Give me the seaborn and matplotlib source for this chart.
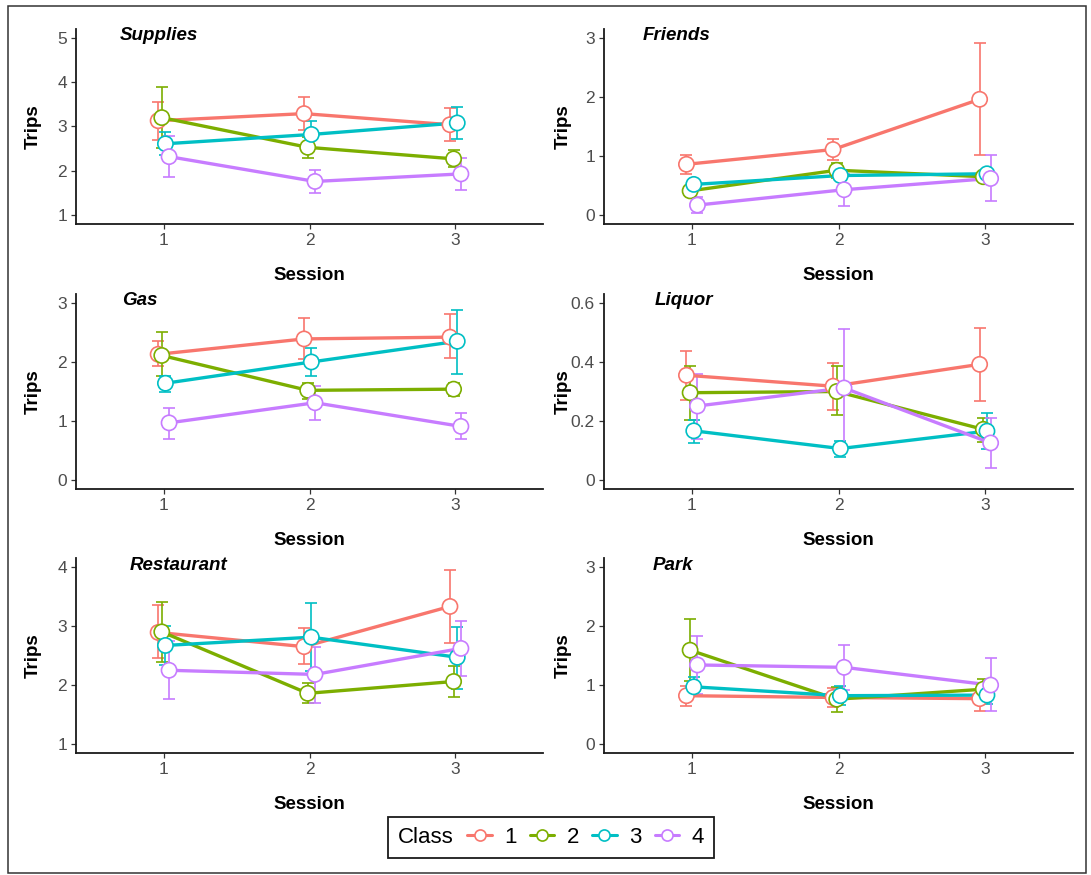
import matplotlib
matplotlib.use("Agg")
import numpy as np
import pandas as pd
import matplotlib.pyplot as plt
import seaborn as sns
from matplotlib.lines import Line2D
from matplotlib.patches import Rectangle

# ---- data ----
sessions = [1, 2, 3]
classes = ["1", "2", "3", "4"]
colors = ["#F8766D", "#7CAE00", "#00BFC4", "#C77CFF"]

supplies_mean = [[3.13, 3.29, 3.04], [3.20, 2.53, 2.27], [2.61, 2.82, 3.08], [2.32, 1.76, 1.93]]
supplies_lo = [[2.70, 2.91, 2.68], [2.51, 2.29, 2.08], [2.35, 2.52, 2.72], [1.86, 1.50, 1.56]]
supplies_hi = [[3.56, 3.67, 3.41], [3.89, 2.77, 2.46], [2.88, 3.13, 3.45], [2.79, 2.02, 2.30]]

friends_mean = [[0.86, 1.11, 1.96], [0.41, 0.76, 0.65], [0.52, 0.67, 0.70], [0.17, 0.43, 0.62]]
friends_lo = [[0.70, 0.94, 1.01], [0.35, 0.63, 0.58], [0.46, 0.60, 0.62], [0.04, 0.16, 0.24]]
friends_hi = [[1.02, 1.28, 2.92], [0.47, 0.89, 0.72], [0.58, 0.73, 0.78], [0.30, 0.70, 1.01]]

gas_mean = [[2.13, 2.39, 2.42], [2.11, 1.52, 1.54], [1.64, 2.00, 2.35], [0.97, 1.31, 0.91]]
gas_lo = [[1.93, 2.05, 2.07], [1.77, 1.38, 1.42], [1.49, 1.76, 1.80], [0.70, 1.01, 0.69]]
gas_hi = [[2.35, 2.74, 2.82], [2.51, 1.65, 1.65], [1.76, 2.23, 2.88], [1.22, 1.60, 1.13]]

liquor_mean = [[0.355, 0.318, 0.392], [0.296, 0.300, 0.172], [0.167, 0.107, 0.166], [0.251, 0.312, 0.126]]
liquor_lo = [[0.270, 0.236, 0.268], [0.205, 0.220, 0.130], [0.126, 0.079, 0.105], [0.141, 0.110, 0.042]]
liquor_hi = [[0.437, 0.398, 0.515], [0.386, 0.386, 0.210], [0.203, 0.134, 0.227], [0.360, 0.512, 0.210]]

restaurant_mean = [[2.89, 2.65, 3.33], [2.90, 1.86, 2.06], [2.67, 2.81, 2.47], [2.25, 2.18, 2.62]]
restaurant_lo = [[2.46, 2.35, 2.71], [2.39, 1.69, 1.79], [2.34, 2.24, 1.93], [1.76, 1.70, 2.15]]
restaurant_hi = [[3.35, 2.96, 3.95], [3.40, 2.03, 2.33], [3.00, 3.38, 2.99], [2.75, 2.65, 3.09]]

park_mean = [[0.82, 0.79, 0.77], [1.59, 0.76, 0.93], [0.97, 0.82, 0.83], [1.34, 1.30, 1.00]]
park_lo = [[0.65, 0.63, 0.56], [1.07, 0.54, 0.76], [0.81, 0.66, 0.68], [0.85, 0.92, 0.56]]
park_hi = [[0.98, 0.95, 0.92], [2.11, 0.97, 1.10], [1.13, 0.98, 0.98], [1.83, 1.68, 1.45]]

panel_names = ["Supplies", "Friends", "Gas", "Liquor", "Restaurant", "Park"]
panel_ticks = [[1, 2, 3, 4, 5], [0, 1, 2, 3], [0, 1, 2, 3],
               [0, 0.2, 0.4, 0.6], [1, 2, 3, 4], [0, 1, 2, 3]]
panel_ticklabels = [["1", "2", "3", "4", "5"], ["0", "1", "2", "3"], ["0", "1", "2", "3"],
                    ["0", "0.2", "0.4", "0.6"], ["1", "2", "3", "4"], ["0", "1", "2", "3"]]
panel_data = [
    (supplies_mean, supplies_lo, supplies_hi),
    (friends_mean, friends_lo, friends_hi),
    (gas_mean, gas_lo, gas_hi),
    (liquor_mean, liquor_lo, liquor_hi),
    (restaurant_mean, restaurant_lo, restaurant_hi),
    (park_mean, park_lo, park_hi),
]

# ---- style ----
sns.set_style("ticks")
plt.rcParams["font.family"] = ["Liberation Sans", "DejaVu Sans"]
plt.rcParams["text.color"] = "black"
plt.rcParams["axes.labelcolor"] = "black"

palette = dict(zip(classes, colors))
dodge = 0.05
title_x = [0.093, 0.083, 0.098, 0.107, 0.114, 0.104]
title_y = [0.969, 0.969, 0.969, 0.969, 0.964, 0.964]

fig = plt.figure(figsize=(10.91, 8.75), dpi=100)
col_x = [0.0697, 0.5536]
col_w = [0.428, 0.430]
row_y = [0.744, 0.4411, 0.1394]
ax_h = 0.2229


def make_frame(mean, lo, hi):
    rows = []
    for ci, cls in enumerate(classes):
        off = (ci - 1.5) * dodge / 2
        for si, s in enumerate(sessions):
            rows.append({"Session": s, "x": s + off, "Class": cls, "Trips": mean[ci][si],
                         "lo": lo[ci][si], "hi": hi[ci][si]})
    return pd.DataFrame(rows)


for i, name in enumerate(panel_names):
    r, c = divmod(i, 2)
    ax = fig.add_axes([col_x[c], row_y[r], col_w[c], ax_h])
    df = make_frame(*panel_data[i])

    for ci, cls in enumerate(classes):
        d = df[df["Class"] == cls]
        ax.errorbar(d["x"], d["Trips"], yerr=[d["Trips"] - d["lo"], d["hi"] - d["Trips"]],
                    fmt="none", ecolor=colors[ci], elinewidth=1.2, capsize=4.5,
                    capthick=1.2, zorder=1)

    sns.lineplot(data=df, x="x", y="Trips", hue="Class", palette=palette, lw=2.4,
                 estimator=None, sort=False, legend=False, ax=ax, zorder=2)
    sns.scatterplot(data=df, x="x", y="Trips", hue="Class", palette=palette, s=120,
                    legend=False, ax=ax, zorder=3)
    coll = ax.collections[-1]
    fc = coll.get_facecolors()
    coll.set_edgecolors(fc)
    coll.set_facecolors("white")
    coll.set_linewidths(1.2)

    ticks = panel_ticks[i]
    rng = ticks[-1] - ticks[0]
    ax.set_ylim(ticks[0] - 0.05 * rng, ticks[-1] + 0.05 * rng)
    ax.set_yticks(ticks)
    ax.set_yticklabels(panel_ticklabels[i])
    ax.set_xlim(0.4, 3.6)
    ax.set_xticks(sessions)
    ax.set_xticklabels([str(s) for s in sessions])

    sns.despine(ax=ax)
    for sp in ["left", "bottom"]:
        ax.spines[sp].set_linewidth(1.3)
        ax.spines[sp].set_color("#1a1a1a")
    ax.tick_params(axis="both", bottom=True, left=True, length=3.5, width=0.9,
                   color="#333333", labelsize=12.5, labelcolor="#4D4D4D", pad=3)
    ax.set_facecolor("white")

    ax.set_xlabel("Session", fontsize=13.5, fontweight="bold", color="black")
    ax.set_ylabel("Trips", fontsize=13.5, fontweight="bold", color="black")
    ax.xaxis.set_label_coords(0.5, -0.22)
    ax.yaxis.set_label_coords(-0.073 if c == 0 else -0.068, 0.5)

    ax.text(title_x[i], title_y[i], name, transform=ax.transAxes, ha="left", va="center",
            fontsize=13.5, fontweight="bold", fontstyle="italic", color="black")

# ---- legend ----
handles = [Line2D([], [], color=col, lw=2.2, marker="o", ms=8, mfc="white", mew=1.2)
           for col in colors]
leg = fig.legend(handles, classes, title="Class", ncol=4, loc="center",
                 bbox_to_anchor=(0.505, 0.043), fontsize=16, title_fontsize=16,
                 frameon=True, fancybox=False, framealpha=1, edgecolor="#1a1a1a",
                 handlelength=1.1, handletextpad=0.55, columnspacing=0.6,
                 borderpad=0.45, labelcolor="black")
leg.get_frame().set_linewidth(1.3)
leg.get_title().set_color("black")
box = leg.get_children()[0]
title_box = box.get_children()[0]
hpack = box.get_children()[1]
box._children = [hpack]
hpack._children = [title_box] + hpack.get_children()

fig.patches.append(Rectangle((0.0073, 0.0023), 0.988, 0.991, transform=fig.transFigure,
                             fill=False, lw=1.1, edgecolor="#333333"))

fig.savefig("out.png", dpi=100)
